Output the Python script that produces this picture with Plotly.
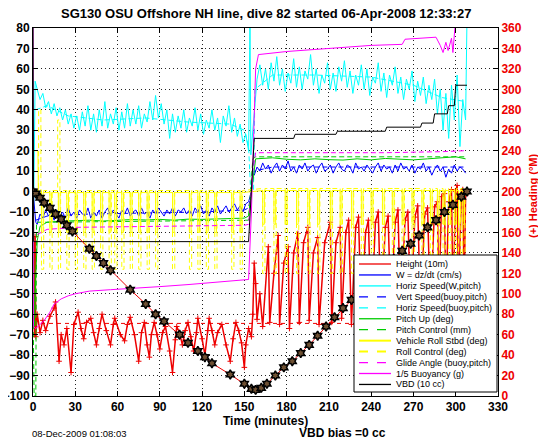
import numpy as np
import plotly.graph_objects as go

# ---------------- data ----------------
# dive depth (Height, 10 m units)
depth_t = [0, 2, 5, 8, 12, 16, 20, 24, 28, 40, 45, 50, 55, 69, 80, 87, 93, 104, 110, 117, 122, 127,
           140, 150, 155, 158, 162, 166, 172, 178, 184, 190, 196, 202, 208, 214, 220, 226, 232, 238,
           244, 250, 256, 262, 268, 274, 280, 286, 292, 298, 304, 308]
depth_v = [0, -1, -3, -5.5, -8, -11, -13.5, -16.5, -19.5, -28, -31.5, -35, -38.5, -48, -55, -60, -63.5,
           -70, -74, -78, -81, -84, -89.5, -94, -96.5, -97, -96, -94, -90, -86, -83, -79, -75, -70.5,
           -66, -61.5, -57, -53, -49, -45, -41, -37, -33, -29, -25.5, -21.5, -17.5, -14, -10, -6.5, -2.5, 0]

# sampled every 2 minutes: descent t = 3..153, ascent t = 157..307
cyan_desc = [50, 45, 48, 41, 44, 38, 43, 37, 41, 35,
             40, 33, 38, 31, 37, 30, 39, 32, 42, 30,
             38, 29, 40, 32, 44, 31, 38, 33, 41, 30,
             39, 31, 43, 32, 40, 33, 42, 31, 38, 34,
             44, 35, 47, 36, 43, 33, 40, 26, 38, 29,
             37, 31, 40, 29, 36, 32, 41, 30, 38, 28,
             35, 31, 40, 30, 36, 24, 37, 32, 42, 29,
             36, 27, 33, 24, 28, 20]
cyan_asc = [40, 55, 62, 52, 60, 50, 63, 54, 66, 52,
            60, 49, 58, 53, 65, 51, 61, 50, 59, 55,
            67, 52, 60, 48, 57, 53, 63, 50, 58, 49,
            61, 54, 64, 51, 59, 48, 57, 52, 62, 50,
            60, 47, 56, 53, 63, 49, 58, 46, 57, 52,
            61, 48, 56, 45, 55, 50, 59, 44, 54, 47,
            56, 43, 52, 45, 55, 38, 50, 30, 48, 26,
            52, 35, 57, 22, 45, 35]
w_desc = [-16, -11, -13, -9, -12, -10, -14, -9, -12, -10,
          -13, -8, -12, -10, -13, -9, -11, -12, -8, -13,
          -10, -12, -9, -13, -10, -8, -12, -9, -11, -13,
          -9, -11, -8, -12, -10, -9, -12, -8, -11, -10,
          -13, -9, -11, -8, -10, -12, -9, -11, -8, -12,
          -9, -10, -8, -11, -9, -12, -8, -10, -7, -11,
          -9, -12, -8, -10, -7, -11, -9, -7, -10, -8,
          -6, -9, -7, -10, -6, -5]
w_asc = [8, 12, 10, 14, 11, 13, 9, 12, 14, 10,
         13, 11, 15, 10, 12, 9, 13, 11, 14, 10,
         12, 13, 9, 12, 14, 10, 11, 13, 9, 12,
         14, 11, 10, 13, 12, 9, 14, 11, 12, 10,
         13, 11, 9, 12, 14, 10, 13, 11, 12, 9,
         13, 10, 14, 11, 12, 10, 13, 9, 12, 11,
         14, 10, 12, 8, 11, 13, 10, 12, 7, 11,
         9, 13, 10, 12, 11, 9]

vspd_t = [2, 10, 40, 80, 120, 150, 153, 155, 157, 170, 220, 280, 307]
vspd_v = [-14, -12, -11, -10.5, -10, -9, -8, 0, 10, 12, 12, 12, 12]

hspd_b_t = [2, 10, 25, 50, 80, 110, 140, 150, 153, 154.5, 156.5, 157.5, 170, 200, 240, 270, 290, 307]
hspd_b_v = [40, 42, 37, 35, 36, 34, 33, 30, 22, 0, 0, 50, 57, 57, 56, 52, 46, 44]

pitch_t = [0, 0.5, 1, 2, 3, 5, 10, 20, 30, 40, 50, 60, 70, 80, 90, 100, 110, 120, 130, 140, 150, 153, 156, 158,
           170, 180, 190, 200, 210, 220, 230, 240, 250, 260, 270, 280, 290, 300, 307]
pitch_v = [0, -60, -66, -40, -24, -17, -15, -14.5, -14.2, -14, -14.4, -14.1, -13.7, -13.9, -13.6, -14, -13.5,
           -13.6, -13.3, -13.2, -13, -12, 5, 16, 16.5, 15.8, 15.5, 16, 15.6, 15.4, 16, 15.5, 16.2, 15.7, 15.5,
           16, 16.5, 17, 16]

pctl_t = [0, 0.8, 2, 2.5, 10, 150, 153, 156, 158, 307]
pctl_v = [-57, -100, -100, -15, -15, -14, -14, 16, 17, 17]

glide_t = [3, 10, 30, 80, 150, 153, 156, 158, 200, 250, 290, 307]
glide_v = [-21, -18.5, -17.5, -17, -16.5, -16, 10, 19, 19, 19, 19.5, 20]

buoy_t = [0, 0.3, 2, 5, 8, 12, 15, 20, 25, 30, 40, 55, 70, 90, 110, 130, 150, 153, 155, 158, 160, 180,
          200, 220, 240, 262, 264, 286, 289, 291, 293, 294.6, 297, 298, 300]
buoy_v = [85, -66, -67, -65, -63, -59, -55, -52.5, -51, -50, -48.7, -48, -47.5, -46.5, -45.5, -44.5, -43.5,
          -43, -10, 60, 67, 68.5, 69.5, 70.5, 71.5, 72, 74.5, 75.5, 71.5, 68, 73, 69, 75, 68, 85]

vbd_t = [0, 0.5, 153, 157, 185, 186, 215, 216, 250, 251, 275, 276, 284, 285, 294, 295, 299, 300, 308]
vbd_v = [85, -24.5, -24.5, 26, 26, 28, 28, 29.5, 29.5, 31.5, 31.5, 33.5, 33.5, 38, 38, 42, 42, 52, 52]

# roll pulses (minutes at which the vehicle rolled)
roll_desc_times = [6, 12, 18, 24, 30, 36, 42, 48, 54, 58, 63, 69, 75, 81, 87, 99, 111, 117, 123, 129, 141, 147]
roll_asc_times = [163, 171, 179, 187, 195, 202, 211, 218, 226, 233, 240, 248, 255, 262, 269, 276, 282,
                  287, 291, 295, 299, 302, 305]
roll_base_desc, roll_base_asc = -0.5, 0.5
roll_low_desc, roll_low_asc = -20, -16
rollctl_low_desc, rollctl_low_asc = -38, -40
rollctl_up = [(4, 40), (17.5, 35)]

# heading (deg magnetic), right axis
heading_t = [0.5, 1, 1.5, 2, 3, 5, 7, 9, 12, 15, 16, 18.5, 20, 22, 24, 27, 29, 32, 34, 36, 38, 41, 43, 45,
             47, 49, 52, 55, 57, 58, 62, 65, 67, 69, 72, 75, 77, 79, 81, 82.6, 84, 86, 88, 90, 92, 94, 97,
             99, 101, 102, 104, 106, 108, 110, 112, 114, 116, 117, 120, 122, 124, 125, 127, 129, 131, 134,
             137, 140, 142, 144, 146, 148, 150, 151, 153, 155, 156, 157,
             158, 159, 161, 163, 167, 168, 171, 174, 175, 178, 181, 182, 185, 188, 189, 192, 195, 196, 199,
             202, 203, 207, 211, 212, 215, 218, 219, 222, 224, 226, 229, 231, 233, 236, 238, 240, 243, 245,
             247, 250, 252, 254, 257, 259, 261, 264, 266, 268, 271, 273, 275, 278, 280, 282, 285, 287, 288,
             290, 292, 293, 295, 297, 298, 300, 301, 302, 304, 305, 306, 307]
heading_deg = [150, 60, 156, 58, 80, 62, 74, 64, 78, 86, 92, 34, 60, 50, 66, 23, 70, 82, 66, 56, 72, 76, 62,
               50, 66, 80, 64, 50, 70, 76, 60, 54, 70, 77, 60, 34, 62, 72, 50, 38, 60, 72, 60, 46, 62, 68,
               44, 23, 55, 68, 62, 50, 64, 72, 58, 44, 62, 76, 56, 40, 64, 76, 64, 50, 62, 70, 50, 34, 56,
               72, 64, 52, 28, 50, 66, 58, 80, 130,
               110, 75, 100, 68, 146, 72, 120, 157, 70, 130, 146, 66, 140, 159, 72, 150, 165, 74, 140, 155,
               70, 150, 170, 72, 150, 165, 76, 160, 172, 70, 165, 175, 78, 160, 172, 74, 170, 180, 78, 165,
               176, 80, 170, 182, 76, 172, 180, 82, 175, 186, 80, 178, 184, 84, 185, 190, 88, 195, 198, 90,
               190, 202, 92, 200, 206, 95, 198, 202, 100, 196]
heading_target = 71

legend_labels = ["Height (10m)", "W = dz/dt (cm/s)", "Horiz Speed(W,pitch)", "Vert Speed(buoy,pitch)",
                 "Horiz Speed(buoy,pitch)", "Pitch Up (deg)", "Pitch Control (mm)", "Vehicle Roll Stbd (deg)",
                 "Roll Control (deg)", "Glide Angle (buoy,pitch)", "1/5 Buoyancy (g)", "VBD (10 cc)"]

title_text = "SG130 OSU Offshore NH line, dive 82 started 06-Apr-2008 12:33:27"
xlabel = "Time (minutes)"
ylabel_right = "(+) Heading (\u00b0M)"
stamp_text = "08-Dec-2009 01:08:03"
vbd_text = "VBD bias =0 cc"

# ---------------- build series ----------------
t_desc = [3 + 2 * i for i in range(len(cyan_desc))]
t_asc = [157 + 2 * i for i in range(len(cyan_asc))]

cyan_t = [0.5, 1.5] + t_desc + [154, 154.6, 156] + t_asc + [308]
cyan_v = [-10, 54] + cyan_desc + [85, 18, 30] + cyan_asc + [85]

w_t = [0, 1, 2] + t_desc + [155, 156] + t_asc
w_v = [0, -6, -15] + w_desc + [0, 9] + w_asc


def pulse_path(events, base_pts_before, base_after, width=1.2):
    xs, ys = [], []
    for (t, b) in base_pts_before:
        xs.append(t); ys.append(b)
    for (t, base, low) in events:
        xs += [t, t, t + width, t + width]
        ys += [base, low, low, base]
    for (t, b) in base_after:
        xs.append(t); ys.append(b)
    return xs, ys


roll_events = [(t, roll_base_desc, roll_low_desc) for t in roll_desc_times] + \
              [(t, roll_base_asc, roll_low_asc) for t in roll_asc_times]
roll_x, roll_y = pulse_path(roll_events, [(0, 0), (0.3, 20), (3.5, 20), (3.8, roll_base_desc)],
                            [(307.5, roll_base_asc), (308, 2)])

rollctl_events = [(t, 0.5, v) for (t, v) in rollctl_up] + \
                 [(t, 0.5, rollctl_low_desc) for t in roll_desc_times] + \
                 [(t, 1.5, rollctl_low_asc) for t in roll_asc_times]
rollctl_events.sort(key=lambda e: e[0])
rollctl_x, rollctl_y = pulse_path(rollctl_events, [(0, 0.5)], [(308, 1.5)], width=1.6)

# ---------------- figure ----------------
RED = "#ee0000"
BLUE = "#0000ff"
CYAN = "#00ffff"
GREEN = "#00cc00"
YELLOW = "#ffff00"
MAGENTA = "#ff00ff"
BLACK = "#000000"
DASH = "5px,3px"
FONT = "Liberation Sans"

fig = go.Figure()

# heading on the base (right) axis
fig.add_trace(go.Scatter(x=[0, 308], y=[heading_target, heading_target], mode="lines",
                         line=dict(color=RED, width=1, dash="4px,4px"), yaxis="y", showlegend=False,
                         hoverinfo="skip"))
fig.add_trace(go.Scatter(x=heading_t, y=heading_deg, mode="lines+markers", yaxis="y",
                         line=dict(color=RED, width=1.5),
                         marker=dict(symbol="cross-thin", size=4, line=dict(color=RED, width=1)),
                         showlegend=False))

styles = [
    (cyan_t, cyan_v, CYAN, "solid"),
    (w_t, w_v, BLUE, "solid"),
    (vspd_t, vspd_v, BLUE, DASH),
    (hspd_b_t, hspd_b_v, CYAN, DASH),
    (pitch_t, pitch_v, GREEN, "solid"),
    (pctl_t, pctl_v, GREEN, DASH),
    (roll_x, roll_y, YELLOW, "solid"),
    (rollctl_x, rollctl_y, YELLOW, DASH),
    (glide_t, glide_v, MAGENTA, DASH),
    (buoy_t, buoy_v, MAGENTA, "solid"),
    (vbd_t, vbd_v, BLACK, "solid"),
]
for xs, ys, c, d in styles:
    fig.add_trace(go.Scatter(x=xs, y=ys, mode="lines", yaxis="y2", line=dict(color=c, width=1, dash=d),
                             showlegend=False))

fig.add_trace(go.Scatter(x=depth_t, y=depth_v, mode="lines", yaxis="y2",
                         line=dict(color=RED, width=1), showlegend=False))
fig.add_trace(go.Scatter(x=depth_t, y=depth_v, mode="markers", yaxis="y2",
                         marker=dict(symbol="hexagram", size=7, color="#6e5032",
                                     line=dict(color=BLACK, width=1.5)),
                         showlegend=False))

# page target (window pixels) -> the page body adds an 8px offset around the figure
OFF = 8
PAGE_W, PAGE_H = 546, 442
PX0, PX1, PY0, PY1 = 33, 498, 28, 396          # plot area in window pixels
W, H = PAGE_W - OFF, PAGE_H - OFF
L, R, T, B = PX0 - OFF, PAGE_W - PX1, PY0 - OFF, H - (PY1 - OFF)


def xp(px):
    return (px - PX0) / (PX1 - PX0)


def yp(py):
    return (PY1 - py) / (PY1 - PY0)


shapes = []
annotations = []

# manual legend
leg_colors = [RED, BLUE, CYAN, BLUE, CYAN, GREEN, GREEN, YELLOW, YELLOW, MAGENTA, MAGENTA, BLACK]
leg_dash = ["solid", "solid", "solid", "dash", "dash", "solid", "dash", "solid", "dash", "dash", "solid", "solid"]
shapes.append(dict(type="rect", xref="paper", yref="paper", x0=xp(354), x1=xp(497), y0=yp(392), y1=yp(255),
                   fillcolor="white", line=dict(color=BLACK, width=1), layer="above"))
for i, lab in enumerate(legend_labels):
    py = 264 + 10.95 * i
    shapes.append(dict(type="line", xref="paper", yref="paper", x0=xp(359), x1=xp(391), y0=yp(py), y1=yp(py),
                       line=dict(color=leg_colors[i], width=2 if leg_colors[i] == YELLOW else 1.3,
                                 dash=leg_dash[i]), layer="above"))
    annotations.append(dict(text=lab, xref="paper", yref="paper", x=xp(394), y=yp(py), xanchor="left",
                            yanchor="middle", showarrow=False, font=dict(family=FONT, size=9, color=BLACK)))

annotations += [
    dict(text=title_text, xref="paper", yref="paper", x=xp(266), y=yp(14), xanchor="center", yanchor="middle",
         showarrow=False, font=dict(family=FONT, size=13, color=BLACK, weight="bold")),
    dict(text=xlabel, xref="paper", yref="paper", x=xp(265), y=yp(421), xanchor="center", yanchor="middle",
         showarrow=False, font=dict(family=FONT, size=12, color=BLACK, weight="bold")),
    dict(text=stamp_text, xref="paper", yref="paper", x=xp(30), y=yp(433), xanchor="left", yanchor="middle",
         showarrow=False, font=dict(family=FONT, size=9.5, color=BLACK)),
    dict(text=vbd_text, xref="paper", yref="paper", x=xp(342), y=yp(433), xanchor="center", yanchor="middle",
         showarrow=False, font=dict(family=FONT, size=12, color=BLACK, weight="bold")),
    dict(text=ylabel_right, xref="paper", yref="paper", x=xp(533), y=yp(196), xanchor="center",
         yanchor="middle", textangle=-90, showarrow=False,
         font=dict(family=FONT, size=11, color=RED, weight="bold")),
]

tickfont = dict(family=FONT, size=12, color=BLACK, weight="bold")
fig.update_layout(
    width=W, height=H, margin=dict(l=L, r=R, t=T, b=B, pad=0, autoexpand=False),
    paper_bgcolor="white", plot_bgcolor="white", showlegend=False,
    font=dict(family=FONT),
    xaxis=dict(range=[0, 330], tickmode="array", tickvals=[0, 30, 60, 90, 120, 150, 180, 210, 240, 270, 300, 330],
               ticks="inside", ticklen=5, tickcolor=BLACK, showline=True, linecolor=BLACK, linewidth=1,
               mirror="ticks", showgrid=True, gridcolor="#222222", griddash="1px,3px", gridwidth=1,
               zeroline=False, tickfont=tickfont, automargin=False),
    yaxis=dict(range=[0, 360], dtick=20, side="right", ticks="inside", ticklen=5, tickcolor=BLACK,
               showline=True, linecolor=BLACK, linewidth=1, showgrid=False, zeroline=False, automargin=False,
               tickfont=dict(family=FONT, size=12, color=RED, weight="bold")),
    yaxis2=dict(range=[-100, 80], dtick=10, side="left", overlaying="y", ticks="inside", ticklen=5,
                tickcolor=BLACK, showline=True, linecolor=BLACK, linewidth=1, showgrid=True, automargin=False,
                gridcolor="#222222", griddash="1px,3px", gridwidth=1, zeroline=False, tickfont=tickfont),
    shapes=shapes, annotations=annotations,
)

fig.write_html("out.html")
